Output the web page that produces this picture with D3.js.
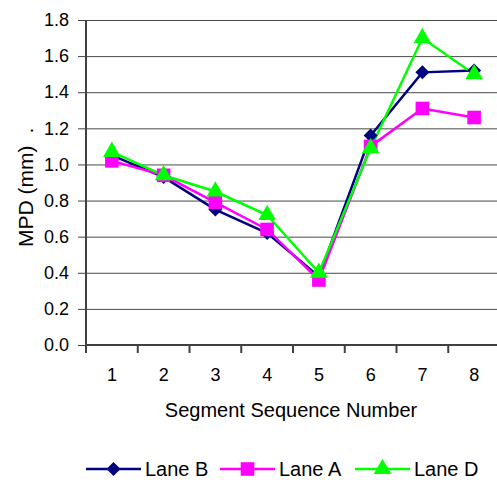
<!DOCTYPE html>
<html>
<head>
<meta charset="utf-8">
<script src="https://cdn.jsdelivr.net/npm/d3@7"></script>
<style>
  body { margin: 0; background: #fff; }
  text { font-family: "Liberation Sans", Arial, sans-serif; fill: #000; }
</style>
</head>
<body>
<div id="chart"></div>
<script>
// values
var segments = ["1", "2", "3", "4", "5", "6", "7", "8"];
var laneB = [1.05, 0.93, 0.75, 0.62, 0.38, 1.16, 1.51, 1.52];
var laneA = [1.02, 0.94, 0.79, 0.64, 0.36, 1.10, 1.31, 1.26];
var laneD = [1.07, 0.94, 0.85, 0.72, 0.40, 1.09, 1.70, 1.50];
var yTicks = [0, 0.2, 0.4, 0.6, 0.8, 1.0, 1.2, 1.4, 1.6, 1.8];

var series = [
  { name: "Lane B", values: laneB, color: "#000080", symbol: d3.symbolDiamond2, size: 125 },
  { name: "Lane A", values: laneA, color: "#ff00ff", symbol: d3.symbolSquare, size: 185 },
  { name: "Lane D", values: laneD, color: "#00ff00", symbol: d3.symbolTriangle, size: 135 }
];

var svgWidth = 497;
var svgHeight = 480;
var margin = { top: 20, right: -3, bottom: 135, left: 86 };
var width = svgWidth - margin.left - margin.right;
var height = svgHeight - margin.top - margin.bottom;

var svg = d3.select("#chart")
  .append("svg")
  .attr("width", svgWidth)
  .attr("height", svgHeight);

var chartGroup = svg.append("g")
  .attr("transform", `translate(${margin.left}, ${margin.top})`);

// scales
var xScale = d3.scaleBand()
  .domain(segments)
  .range([0, width]);

var yScale = d3.scaleLinear()
  .domain([0, 1.8])
  .range([height, 0]);

// gridlines
chartGroup.append("g")
  .call(d3.axisLeft(yScale).tickValues(yTicks.slice(1)).tickSize(-width).tickFormat(""))
  .call(g => g.select(".domain").remove())
  .selectAll("line")
  .attr("stroke", "#4a4a4a")
  .attr("stroke-width", 1);

// y axis
var yAxis = chartGroup.append("g")
  .call(d3.axisLeft(yScale).tickValues(yTicks).tickSize(8).tickPadding(9).tickFormat(d3.format(".1f")));
yAxis.select(".domain").attr("stroke", "#404040").attr("stroke-width", 2).attr("d", `M0,0V${height}`);
yAxis.selectAll("line").attr("stroke", "#404040");
yAxis.selectAll("text").style("font-size", "18px");

// x axis: labels centered in band, tick marks between categories
var xAxis = chartGroup.append("g")
  .attr("transform", `translate(0, ${height})`)
  .call(d3.axisBottom(xScale).tickSize(0).tickPadding(23));
xAxis.select(".domain").attr("stroke", "#404040").attr("stroke-width", 2).attr("d", `M0,0H${width}`);
xAxis.selectAll("text").style("font-size", "18px");

var edges = segments.map(d => xScale(d)).concat([xScale.range()[1]]);
xAxis.selectAll(".edge")
  .data(edges)
  .enter()
  .append("line")
  .attr("x1", d => d)
  .attr("x2", d => d)
  .attr("y1", 0)
  .attr("y2", 8)
  .attr("stroke", "#404040")
  .attr("stroke-width", 2);

// lines and markers
var line = d3.line()
  .x((d, i) => xScale(segments[i]) + xScale.bandwidth() / 2)
  .y(d => yScale(d));

series.forEach(function(s) {
  chartGroup.append("path")
    .datum(s.values)
    .attr("fill", "none")
    .attr("stroke", s.color)
    .attr("stroke-width", 2.5)
    .attr("d", line);
});

series.forEach(function(s) {
  chartGroup.selectAll(null)
    .data(s.values)
    .enter()
    .append("path")
    .attr("d", d3.symbol().type(s.symbol).size(s.size))
    .attr("transform", (d, i) => `translate(${xScale(segments[i]) + xScale.bandwidth() / 2}, ${yScale(d)})`)
    .attr("fill", s.color);
});

// axis labels
var yLabel = chartGroup.append("text")
  .attr("transform", "rotate(-90)")
  .attr("x", -(247 - margin.top))
  .attr("y", -margin.left + 33)
  .style("font-size", "21px")
  .style("text-anchor", "start")
  .text("MPD (mm)");
yLabel.append("tspan")
  .attr("dx", 12)
  .text(".");

chartGroup.append("text")
  .attr("x", width / 2 - 2)
  .attr("y", height + 72)
  .style("font-size", "20px")
  .style("text-anchor", "middle")
  .text("Segment Sequence Number");

// legend
var legendX = [86, 220, 355];
var legend = svg.selectAll(".legend")
  .data(series)
  .enter()
  .append("g")
  .attr("transform", (d, i) => `translate(${legendX[i]}, 469)`);

legend.append("line")
  .attr("x1", 0)
  .attr("x2", 55)
  .attr("stroke", d => d.color)
  .attr("stroke-width", 2.5);

legend.append("path")
  .attr("d", d => d3.symbol().type(d.symbol).size(d.size)())
  .attr("transform", "translate(27.5, 0)")
  .attr("fill", d => d.color);

legend.append("text")
  .attr("x", 59)
  .attr("y", 7)
  .style("font-size", "20px")
  .text(d => d.name);
</script>
</body>
</html>
